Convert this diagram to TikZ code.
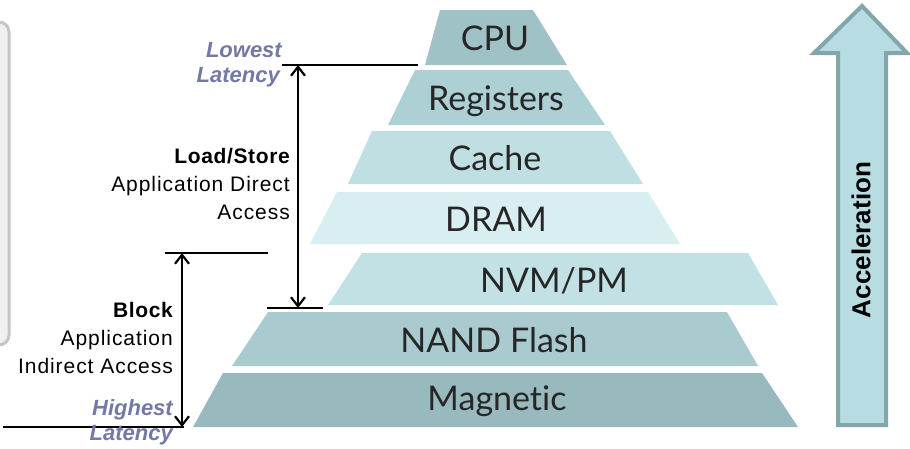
\documentclass[tikz,border=0pt]{standalone}
\usepackage{fontspec}
\setmainfont{Liberation Sans}
\newfontfamily\layerfont[Ligatures=NoCommon]{Lato}
\usetikzlibrary{arrows.meta}
\definecolor{cCPU}{HTML}{9FC2C6}
\definecolor{cReg}{HTML}{ADD0D4}
\definecolor{cCache}{HTML}{BFDFE2}
\definecolor{cDRAM}{HTML}{D8EEF0}
\definecolor{cNVM}{HTML}{C2E1E4}
\definecolor{cNAND}{HTML}{A9CBCF}
\definecolor{cMag}{HTML}{98BABE}
\definecolor{latblue}{HTML}{7478A6}
\definecolor{accfill}{HTML}{B7DDE2}
\definecolor{accline}{HTML}{82A6AA}
\begin{document}
\begin{tikzpicture}[x=1pt,y=-1pt,
  layertext/.style={font=\layerfont\fontsize{34}{36}\selectfont, text=black!85, anchor=base, inner sep=0pt},
  sidetext/.style={font=\fontsize{21}{24}\selectfont\addfontfeature{LetterSpace=4.5}, anchor=base east, inner sep=0pt},
  sidebold/.style={font=\bfseries\fontsize{21}{24}\selectfont\addfontfeature{LetterSpace=3}, anchor=base east, inner sep=0pt},
  lattext/.style={font=\bfseries\itshape\fontsize{22}{24}\selectfont, text=latblue, anchor=base east, inner sep=0pt},
  bar/.style={line width=1.6pt},
  dimarrow/.style={line width=2.2pt, {Straight Barb[length=9pt,width=14pt,line width=2.2pt]}-{Straight Barb[length=9pt,width=14pt,line width=2.2pt]}}
]
\useasboundingbox (0,0) rectangle (910,448);
% left grey box fragment
\fill[gray!12, draw=gray!45, line width=3pt, rounded corners=10pt] (-40,22) rectangle (9,345);
% pyramid layers
\fill[cCPU]   (425,65)  -- (440,10)  -- (533,10)  -- (567,65)  -- cycle;
\fill[cReg]   (388,125) -- (415,70)  -- (568,70)  -- (605,125) -- cycle;
\fill[cCache] (348,184) -- (372,131) -- (610,131) -- (643,184) -- cycle;
\fill[cDRAM]  (310,244) -- (337,192) -- (648,192) -- (680,244) -- cycle;
\fill[cNVM]   (328,305) -- (362,253) -- (748,253) -- (778,305) -- cycle;
\fill[cNAND]  (232,366) -- (268,312) -- (727,312) -- (758,366) -- cycle;
\fill[cMag]   (193,427) -- (223,373) -- (762,373) -- (798,427) -- cycle;
\node[layertext] (cpu)  at (495,50)  {CPU};
\node[layertext] (reg)  at (496,110) {Registers};
\node[layertext] (cache) at (495,170) {Cache};
\node[layertext] (dram) at (496,231) {DRAM};
\node[layertext] (nvm)  at (554,292) {NVM/PM};
\node[layertext] (nand) at (494,352) {NAND Flash};
\node[layertext] (mag)  at (497,410) {Magnetic};
% acceleration arrow
\filldraw[fill=accfill, draw=accline, line width=4pt, line join=miter]
  (838,425) -- (838,53) -- (814,53) -- (862,6) -- (907,53) -- (886,53) -- (886,425) -- cycle;
\node[font=\bfseries\fontsize{26}{28}\selectfont, rotate=90, inner sep=0pt] (acc) at (861,240) {Acceleration};
% load/store dimension
\coordinate (lsTopL) at (282,65);
\coordinate (lsTopR) at (418,65);
\coordinate (lsBotL) at (267,308);
\coordinate (lsBotR) at (323,308);
\coordinate (lsTop) at (298,65);
\coordinate (lsBot) at (298,308);
\draw[bar] (lsTopL) -- (lsTopR);
\draw[bar] (lsBotL) -- (lsBotR);
\draw[dimarrow] (lsTop) -- (lsBot);
% block dimension
\coordinate (blTopL) at (165,253);
\coordinate (blTopR) at (268,253);
\coordinate (blBotL) at (3,427);
\coordinate (blBotR) at (184,427);
\coordinate (blTop) at (182,253);
\coordinate (blBot) at (182,427);
\draw[bar] (blTopL) -- (blTopR);
\draw[bar] (blBotL) -- (blBotR);
\draw[dimarrow] (blTop) -- (blBot);
% side texts
\node[lattext] (low1) at (282,57) {Lowest};
\node[lattext] (low2) at (280,82) {Latency};
\node[sidebold] (ls1) at (290,163) {Load/Store};
\node[sidetext] (ls2) at (290,191) {Application Direct};
\node[sidetext] (ls3) at (290,219) {Access};
\node[sidebold] (bl1) at (173,317) {Block};
\node[sidetext] (bl2) at (173,345) {Application};
\node[sidetext] (bl3) at (173,373) {Indirect Access};
\node[lattext] (hi1) at (173,415) {Highest};
\node[lattext] (hi2) at (173,440) {Latency};
\end{tikzpicture}
\end{document}
